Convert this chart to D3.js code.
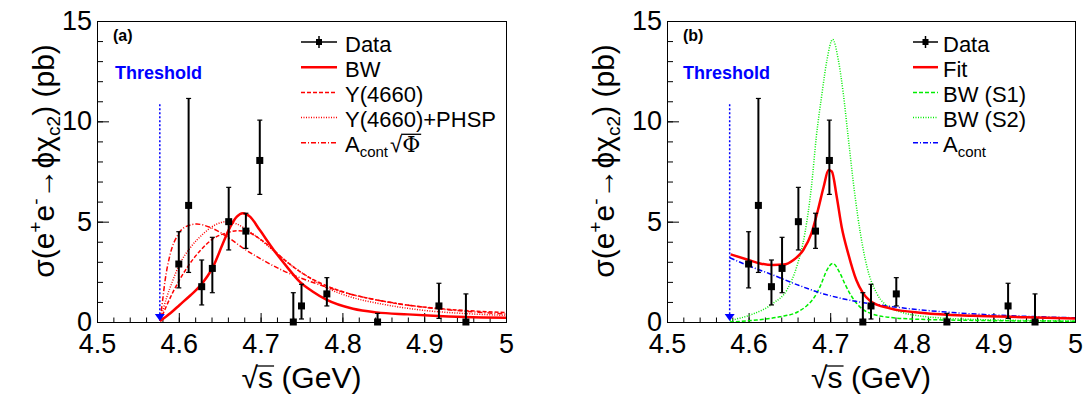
<!DOCTYPE html>
<html><head><meta charset="utf-8">
<script src="https://cdn.jsdelivr.net/npm/d3@7"></script>
<style>
body{margin:0;background:#fff}
svg{display:block}
text{font-family:"Liberation Sans",Arial,Helvetica,sans-serif}
</style>
</head><body>
<svg id="c" width="1085" height="394"></svg>
<script>
// ---------- data ----------
const energies = [4.600, 4.612, 4.628, 4.641, 4.661, 4.682, 4.699, 4.740, 4.750, 4.781, 4.843, 4.918, 4.951];
const xsec     = [2.89, 5.81, 1.76, 2.67, 5.00, 4.53, 8.05, 0.00, 0.80, 1.40, 0.00, 0.80, 0.00];
const errUp    = [1.61, 5.33, 1.33, 1.55, 1.71, 0.89, 2.01, 1.46, 1.08, 0.81, 0.43, 1.13, 1.40];
const errDown  = [1.19, 3.34, 0.91, 1.21, 1.41, 0.86, 1.69, 0.00, 0.65, 0.60, 0.00, 0.62, 0.00];
const threshold = 4.5768;
const thresholdTop = 10.85;

const xTickValues = [4.5, 4.6, 4.7, 4.8, 4.9, 5.0];
const xTickLabels = ["4.5", "4.6", "4.7", "4.8", "4.9", "5"];
const yTickValues = [0, 5, 10, 15];
const yTickLabels = ["0", "5", "10", "15"];

// panel (a) curves
const bwA = [[4.577,0.05],[4.590,0.45],[4.601,0.85],[4.614,1.32],[4.626,1.80],[4.642,2.76],[4.654,3.92],[4.663,4.75],[4.671,5.25],[4.678,5.42],[4.687,5.25],[4.699,4.58],[4.716,3.59],[4.732,2.76],[4.748,2.00],[4.764,1.51],[4.781,1.10],[4.813,0.66],[4.842,0.48],[4.880,0.38],[4.911,0.31],[4.950,0.25],[5.0,0.21]];
const y4660A = [[4.577,0.05],[4.593,1.5],[4.610,2.7],[4.626,3.55],[4.642,4.15],[4.659,4.45],[4.671,4.55],[4.683,4.5],[4.695,4.25],[4.707,3.9],[4.732,3.0],[4.756,2.3],[4.781,1.8],[4.805,1.45],[4.830,1.2],[4.870,0.9],[4.911,0.7],[4.955,0.56],[5.0,0.47]];
const phspA = [[4.577,0.05],[4.585,1.2],[4.592,2.0],[4.600,2.8],[4.615,3.75],[4.630,4.4],[4.645,4.85],[4.658,5.0],[4.670,4.9],[4.685,4.55],[4.700,4.1],[4.720,3.4],[4.740,2.75],[4.760,2.2],[4.781,1.7],[4.810,1.25],[4.850,0.88],[4.900,0.58],[4.950,0.42],[5.0,0.33]];
const acontA = [[4.577,0.05],[4.580,1.0],[4.583,2.0],[4.589,3.3],[4.599,4.35],[4.610,4.78],[4.622,4.88],[4.638,4.72],[4.659,4.25],[4.679,3.67],[4.699,3.17],[4.728,2.55],[4.769,1.9],[4.809,1.4],[4.870,0.9],[4.932,0.6],[5.0,0.40]];

// panel (b) curves
const fitB = [[4.578,3.37],[4.600,3.09],[4.614,2.92],[4.630,2.84],[4.643,2.86],[4.655,3.09],[4.667,3.59],[4.677,4.42],[4.685,5.58],[4.692,6.74],[4.698,7.57],[4.702,7.5],[4.708,6.24],[4.714,4.75],[4.722,3.42],[4.732,2.09],[4.740,1.45],[4.749,1.05],[4.773,0.68],[4.814,0.45],[4.875,0.31],[4.940,0.24],[5.0,0.18]];
const s1B = [[4.577,0.0],[4.610,0.1],[4.638,0.26],[4.660,0.5],[4.671,0.8],[4.680,1.2],[4.688,1.8],[4.696,2.59],[4.703,2.92],[4.712,2.43],[4.718,1.9],[4.724,1.43],[4.732,0.95],[4.741,0.6],[4.753,0.38],[4.775,0.22],[4.800,0.15],[4.875,0.08],[5.0,0.04]];
const s2B = [[4.577,0.08],[4.602,0.35],[4.630,0.93],[4.647,1.6],[4.659,2.76],[4.669,4.42],[4.677,6.74],[4.683,9.23],[4.690,11.4],[4.696,13.05],[4.703,14.08],[4.710,13.05],[4.716,11.4],[4.722,9.23],[4.730,6.41],[4.737,4.42],[4.745,2.76],[4.757,1.43],[4.777,0.65],[4.814,0.28],[4.875,0.13],[5.0,0.05]];
const acontB = [[4.577,3.2],[4.600,2.8],[4.625,2.42],[4.660,1.85],[4.692,1.4],[4.720,1.12],[4.760,0.85],[4.800,0.65],[4.850,0.47],[4.900,0.35],[4.950,0.27],[5.0,0.21]];

// ---------- drawing ----------
const svg = d3.select('#c');
const FONT = '"Liberation Sans",Arial,Helvetica,sans-serif';
const RED = '#ff0000', GREEN = '#00ee00', BLUE = '#0000ff';

function overline(textSel, charIdx, rise, parent) {
  const n = textSel.node();
  const a = n.getStartPositionOfChar(charIdx), b = n.getEndPositionOfChar(charIdx);
  const x0 = n.getStartPositionOfChar(charIdx - 1);
  parent.append('line').attr('x1', a.x - 1).attr('x2', b.x + 1)
    .attr('y1', a.y - rise).attr('y2', a.y - rise)
    .attr('stroke', '#000').attr('stroke-width', 1.3);
}

function panel(o) {
  const x = d3.scaleLinear().domain([4.5, 5.0]).range([o.left, o.right]);
  const y = d3.scaleLinear().domain([0, 15]).range([o.bottom, o.top]);
  const g = svg.append('g');
  const clipId = 'clip' + o.name;
  svg.append('clipPath').attr('id', clipId).append('rect')
    .attr('x', o.left).attr('y', o.top).attr('width', o.right - o.left).attr('height', o.bottom - o.top);

  // minor ticks
  const xMinor = d3.range(0, 26).map(i => 4.5 + i * 0.02);
  const yMinor = d3.range(0, 16);
  g.append('g').attr('transform', `translate(0,${o.bottom})`)
    .call(d3.axisBottom(x).tickValues(xMinor).tickSize(-4.5).tickFormat(''))
    .call(a => a.select('.domain').remove());
  g.append('g').attr('transform', `translate(${o.left},0)`)
    .call(d3.axisLeft(y).tickValues(yMinor).tickSize(-6).tickFormat(''))
    .call(a => a.select('.domain').remove());
  // major ticks
  const xa = g.append('g').attr('transform', `translate(0,${o.bottom})`)
    .call(d3.axisBottom(x).tickValues(xTickValues).tickSize(-9).tickPadding(12)
      .tickFormat((d, i) => xTickLabels[i]));
  xa.select('.domain').remove();
  xa.attr('font-size', 27).attr('font-family', FONT);
  xa.selectAll('text').attr('fill', '#000');
  const ya = g.append('g').attr('transform', `translate(${o.left},0)`)
    .call(d3.axisLeft(y).tickValues(yTickValues).tickSize(-12).tickPadding(5)
      .tickFormat((d, i) => yTickLabels[i]));
  ya.select('.domain').remove();
  ya.attr('font-size', 27).attr('font-family', FONT);
  ya.selectAll('text').attr('fill', '#000');
  g.selectAll('.tick line').attr('stroke', '#000').attr('stroke-width', 1);

  // frame
  g.append('rect').attr('x', o.left + 0.5).attr('y', o.top + 0.5)
    .attr('width', o.right - o.left).attr('height', o.bottom - o.top)
    .attr('fill', 'none').attr('stroke', '#000').attr('stroke-width', 1);

  // curves
  const line = d3.line().x(d => x(d[0])).y(d => y(d[1])).curve(d3.curveMonotoneX);
  const cg = g.append('g').attr('clip-path', `url(#${clipId})`);
  o.curves.forEach(c => {
    cg.append('path').attr('d', line(c.data)).attr('fill', 'none')
      .attr('stroke', c.color).attr('stroke-width', c.width)
      .attr('stroke-dasharray', c.dash || null);
  });

  // threshold arrow
  const tx = x(threshold);
  g.append('line').attr('x1', tx).attr('x2', tx).attr('y1', y(thresholdTop)).attr('y2', y(0) - 6)
    .attr('stroke', BLUE).attr('stroke-width', 1.5).attr('stroke-dasharray', '2,2');
  g.append('path').attr('d', `M${tx - 5},${y(0) - 8}L${tx + 5},${y(0) - 8}L${tx},${y(0) - 1}Z`).attr('fill', BLUE);
  g.append('text').attr('x', o.threshLabelX).attr('y', 79).attr('font-size', 18)
    .attr('font-weight', 'bold').attr('fill', BLUE).text('Threshold');

  // data points with errors
  const dg = g.append('g');
  energies.forEach((e, i) => {
    const px = x(e), hi = y(xsec[i] + errUp[i]), lo = y(xsec[i] - errDown[i]);
    dg.append('line').attr('x1', px).attr('x2', px).attr('y1', hi).attr('y2', lo)
      .attr('stroke', '#000').attr('stroke-width', 2);
    if (errUp[i] > 0) dg.append('line').attr('x1', px - 2.5).attr('x2', px + 2.5).attr('y1', hi).attr('y2', hi).attr('stroke', '#000').attr('stroke-width', 1.2);
    if (errDown[i] > 0) dg.append('line').attr('x1', px - 2.5).attr('x2', px + 2.5).attr('y1', lo).attr('y2', lo).attr('stroke', '#000').attr('stroke-width', 1.2);
    dg.append('rect').attr('x', px - 3.5).attr('y', y(xsec[i]) - 3.5).attr('width', 7).attr('height', 7).attr('fill', '#000');
  });

  // panel label
  g.append('text').attr('x', o.labelX).attr('y', 41).attr('font-size', 16)
    .attr('font-weight', 'bold').text(o.label);

  // legend
  const lg = g.append('g');
  const rows = [51.5, 76.7, 101.9, 127.1, 152.3];
  o.legend.forEach((L, i) => {
    const by = rows[i], ly = by - 9.5;
    if (L.type === 'data') {
      const cx = (o.legX1 + o.legX2) / 2;
      lg.append('line').attr('x1', o.legX1).attr('x2', o.legX2).attr('y1', ly).attr('y2', ly).attr('stroke', '#000').attr('stroke-width', 1.5);
      lg.append('line').attr('x1', cx).attr('x2', cx).attr('y1', ly - 6).attr('y2', ly + 6).attr('stroke', '#000').attr('stroke-width', 1.5);
      lg.append('rect').attr('x', cx - 3).attr('y', ly - 3).attr('width', 6).attr('height', 6).attr('fill', '#000');
    } else {
      lg.append('line').attr('x1', o.legX1).attr('x2', o.legX2).attr('y1', ly).attr('y2', ly)
        .attr('stroke', L.color).attr('stroke-width', L.width).attr('stroke-dasharray', L.dash || null);
    }
    const t = lg.append('text').attr('x', o.legTextX).attr('y', by).attr('font-size', 22).attr('fill', '#000');
    if (L.sub) {
      t.append('tspan').text(L.text);
      t.append('tspan').attr('font-size', 15).attr('dy', 5).text(L.sub);
      if (L.sqrt) {
        t.append('tspan').attr('dy', -5).attr('dx', 2).attr('font-size', 22).text('√');
        t.append('tspan').attr('font-size', 22).attr('font-family', '"DejaVu Serif",serif').text(L.sqrt);
        overline(t, 6, 18, lg);
      }
    } else {
      t.text(L.text);
    }
  });

  // x title
  const xt = g.append('text').attr('x', (o.left + o.right) / 2).attr('y', 388)
    .attr('text-anchor', 'middle').attr('font-size', 30);
  xt.append('tspan').text('√');
  xt.append('tspan').text('s');
  xt.append('tspan').text(' (GeV)');
  overline(xt, 1, 22, g);

  // y title
  const yt = g.append('text').attr('transform', `translate(${o.yTitleX},161) rotate(-90)`)
    .attr('text-anchor', 'middle').attr('font-size', 30);
  yt.append('tspan').text('σ(e');
  yt.append('tspan').attr('font-size', 19).attr('dy', -12).text('+');
  yt.append('tspan').attr('dy', 12).text('e');
  yt.append('tspan').attr('font-size', 19).attr('dy', -12).text('-');
  yt.append('tspan').attr('dy', 12).text('→ϕχ');
  yt.append('tspan').attr('font-size', 19).attr('dy', 6).text('c2');
  yt.append('tspan').attr('dy', -6).text(') (pb)');
}

panel({
  name: 'a', left: 97, right: 506, top: 21, bottom: 322, label: '(a)', labelX: 113,
  threshLabelX: 115, yTitleX: 54,
  legX1: 301, legX2: 337, legTextX: 345,
  curves: [
    { data: y4660A, color: RED, width: 1.5, dash: '4,2' },
    { data: phspA, color: RED, width: 1.5, dash: '1,1.5' },
    { data: acontA, color: RED, width: 1.5, dash: '5,2,1,2' },
    { data: bwA, color: RED, width: 2.5 }
  ],
  legend: [
    { type: 'data', text: 'Data' },
    { text: 'BW', color: RED, width: 2.5 },
    { text: 'Y(4660)', color: RED, width: 1.5, dash: '4,2' },
    { text: 'Y(4660)+PHSP', color: RED, width: 1.5, dash: '1,1.5' },
    { text: 'A', sub: 'cont', sqrt: 'Φ', color: RED, width: 1.5, dash: '5,2,1,2' }
  ]
});

panel({
  name: 'b', left: 667, right: 1075, top: 21, bottom: 322, label: '(b)', labelX: 683,
  threshLabelX: 683, yTitleX: 614,
  legX1: 913, legX2: 938, legTextX: 943,
  curves: [
    { data: s2B, color: GREEN, width: 1.5, dash: '1,1.5' },
    { data: s1B, color: GREEN, width: 1.5, dash: '4,2' },
    { data: acontB, color: BLUE, width: 1.5, dash: '5,2,1,2' },
    { data: fitB, color: RED, width: 2.5 }
  ],
  legend: [
    { type: 'data', text: 'Data' },
    { text: 'Fit', color: RED, width: 2.5 },
    { text: 'BW (S1)', color: GREEN, width: 1.5, dash: '4,2' },
    { text: 'BW (S2)', color: GREEN, width: 1.5, dash: '1,1.5' },
    { text: 'A', sub: 'cont', color: BLUE, width: 1.5, dash: '5,2,1,2' }
  ]
});
</script>
</body></html>
